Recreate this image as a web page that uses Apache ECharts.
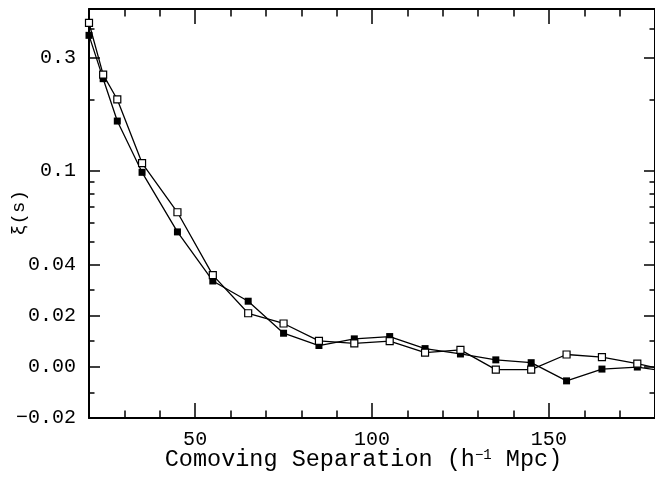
<!DOCTYPE html>
<html>
<head>
<meta charset="utf-8">
<script src="https://cdn.jsdelivr.net/npm/echarts@6/dist/echarts.min.js"></script>
<style>
  html, body { margin: 0; padding: 0; background: #fff; }
  #chart { width: 655px; height: 485px; }
</style>
</head>
<body>
<div id="chart"></div>
<script>
// separation bins (h^-1 Mpc)
var sep = [20, 24, 28, 35, 45, 55, 65, 75, 85, 95, 105, 115, 125, 135, 145, 155, 165, 175, 185];
// xi(s), open squares
var xiOpen = [0.422, 0.255, 0.200, 0.1075, 0.0665, 0.0358, 0.0209, 0.0169, 0.0101, 0.0091,
    0.0100, 0.0055, 0.0066, -0.0011, -0.0011, 0.0048, 0.0038, 0.0012, -0.0019];
// xi(s), filled squares
var xiFilled = [0.374, 0.245, 0.162, 0.0982, 0.0549, 0.0335, 0.0256, 0.0131, 0.0083, 0.0109,
    0.0118, 0.0071, 0.0050, 0.0027, 0.0016, -0.0055, -0.0009, -0.0001, -0.0021];

// tick marks
var xMajor = [50, 100, 150];
var xMinor = [30, 40, 60, 70, 80, 90, 110, 120, 130, 140, 160, 170];
var yMajor = [-0.02, 0, 0.02, 0.04, 0.1, 0.3];
var yMajorText = ['\u22120.02', '0.00', '0.02', '0.04', '0.1', '0.3'];
var yMinor = [-0.01, 0.01, 0.03, 0.05, 0.06, 0.07, 0.08, 0.09, 0.2, 0.4];

// y scale: linear up to 0.04, logarithmic above (smooth join)
function T(v) {
    return v <= 0.04 ? v : 0.04 + 0.04 * Math.log(v / 0.04);
}

var yMin = -0.02, yMax = 0.1397;
var font = 'Liberation Mono';

function pairs(xs, ys) {
    return xs.map(function (x, i) { return [x, T(ys[i])]; });
}

function xAx(pos, ticks, len, showLine, showLabel) {
    return {
        type: 'value', position: pos, min: 20, max: 180,
        axisLine: {show: showLine, onZero: false, lineStyle: {color: '#000', width: 2}},
        axisTick: {show: true, inside: true, length: len, customValues: ticks,
            lineStyle: {color: '#000', width: 1.5}},
        axisLabel: {show: showLabel, customValues: ticks, margin: 12,
            color: '#000', fontFamily: font, fontSize: 20},
        splitLine: {show: false}
    };
}

function yAx(pos, ticks, len, showLine, showLabel) {
    return {
        type: 'value', position: pos, min: yMin, max: yMax,
        axisLine: {show: showLine, onZero: false, lineStyle: {color: '#000', width: 2}},
        axisTick: {show: true, inside: true, length: len, customValues: ticks.map(T),
            lineStyle: {color: '#000', width: 1.5}},
        axisLabel: {show: showLabel, customValues: ticks.map(T), margin: 13,
            color: '#000', fontFamily: font, fontSize: 20,
            formatter: function (v) {
                var best = 0;
                yMajor.forEach(function (t, i) {
                    if (Math.abs(T(t) - v) < Math.abs(T(yMajor[best]) - v)) best = i;
                });
                return yMajorText[best];
            }},
        splitLine: {show: false}
    };
}

var chart = echarts.init(document.getElementById('chart'), null, {renderer: 'canvas'});

var xMain = xAx('bottom', xMajor, 15, true, true);
xMain.name = 'Comoving Separation (h{sup|\u22121} Mpc)';
xMain.nameLocation = 'middle';
xMain.nameGap = 30;
xMain.nameMoveOverlap = false;
xMain.nameTextStyle = {
    color: '#000', fontFamily: font, fontSize: 23.5, padding: [0, 17, 0, 0],
    rich: {sup: {fontFamily: font, fontSize: 14, padding: [0, 0, 10, 0], color: '#000'}}
};

var option = {
    animation: false,
    backgroundColor: '#fff',
    grid: {left: 89, right: -2, top: 9, bottom: 67},
    xAxis: [
        xMain,
        xAx('bottom', xMinor, 7.5, false, false),
        xAx('top', xMajor, 15, true, false),
        xAx('top', xMinor, 7.5, false, false)
    ],
    yAxis: [
        yAx('left', yMajor, 11, true, true),
        yAx('left', yMinor, 5.5, false, false),
        yAx('right', yMajor, 11, true, false),
        yAx('right', yMinor, 5.5, false, false)
    ],
    graphic: [{
        type: 'text', x: 19, y: 213, rotation: Math.PI / 2,
        style: {text: '\u03be(s)', fontFamily: font, fontSize: 19, fill: '#000',
            textAlign: 'center', textVerticalAlign: 'middle'}
    }],
    series: [
        {
            name: 'filled', type: 'line', data: pairs(sep, xiFilled),
            symbol: 'rect', symbolSize: 7, showAllSymbol: true,
            lineStyle: {color: '#000', width: 1.3},
            itemStyle: {color: '#000', borderWidth: 0}
        },
        {
            name: 'open', type: 'line', data: pairs(sep, xiOpen),
            symbol: 'rect', symbolSize: 7, showAllSymbol: true,
            lineStyle: {color: '#000', width: 1.3},
            itemStyle: {color: '#fff', borderColor: '#000', borderWidth: 1.2}
        }
    ]
};

chart.setOption(option);
</script>
</body>
</html>
